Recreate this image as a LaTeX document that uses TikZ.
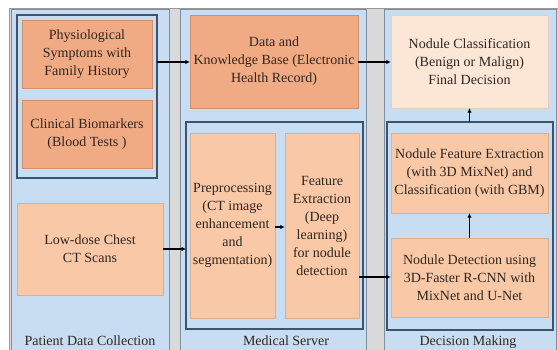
\documentclass[tikz,border=0pt]{standalone}
\usepackage{fontspec}
\setmainfont{Liberation Serif}
\newfontfamily\tms{Liberation Serif}
\usetikzlibrary{arrows.meta,fit}
\definecolor{panelblue}{HTML}{C8DDF1}
\definecolor{panelline}{HTML}{7D8EA0}
\definecolor{grayback}{HTML}{D9D9D9}
\definecolor{grayline}{HTML}{9A9A9A}
\definecolor{navy}{HTML}{3A5572}
\definecolor{orangeA}{HTML}{F1AB84}
\definecolor{orangeB}{HTML}{F8C8A7}
\definecolor{orangeC}{HTML}{FCE7D7}
\definecolor{txt}{HTML}{30261F}
\begin{document}
\begin{tikzpicture}[x=1pt,y=-1pt,
  every node/.style={font=\tms\fontsize{14}{18}\selectfont, text=txt, align=center, inner sep=0pt},
  boxA/.style={fill=orangeA, draw=orangeA!85!black, line width=0.4pt},
  boxB/.style={fill=orangeB, draw=orangeB!88!black, line width=0.4pt},
  boxC/.style={fill=orangeC, draw=orangeC!90!black, line width=0.4pt},
  panel/.style={fill=panelblue, draw=panelline, line width=1pt},
  grp/.style={draw=navy, line width=1.2pt},
  arr/.style={-{Latex[length=4.5pt,width=4.5pt]}, line width=1.2pt, black},
  lbl/.style={anchor=base}
]
\clip (0,0) rectangle (558,350);
\fill[white] (0,0) rectangle (558,350);
% gray background
\draw[fill=grayback, draw=grayline, line width=0.8pt] (9,8) rectangle (570,370);
% panels
\draw[panel] (11,10) rectangle (169,370);
\draw[panel] (180,10) rectangle (366,370);
\draw[panel] (384,10) rectangle (556,370);

% panel 1
\node[boxA, minimum width=130pt, minimum height=68pt] (phys) at (87,54) {Physiological\\Symptoms with\\Family History};
\node[boxA, minimum width=130pt, minimum height=68pt] (clin) at (87,134) {Clinical Biomarkers\\(Blood Tests )};
\draw[grp] (17,15) rectangle (157,178);
\coordinate (g1e) at (157,62);
\node[boxB, minimum width=146pt, minimum height=92pt] (low) at (90,249) {Low-dose Chest\\CT Scans};
\node[lbl] (l1) at (90,345) {Patient Data Collection};

% panel 2
\node[boxA, minimum width=168pt, minimum height=93pt] (data) at (274,61.5) {Data and\\Knowledge Base (Electronic\\Health Record)};
\node[boxB, minimum width=85pt, minimum height=185pt] (pre) at (232.5,225.5) {Preprocessing\\(CT image\\enhancement\\and\\segmentation)};
\node[boxB, minimum width=74pt, minimum height=185pt] (feat) at (322,225.5) {Feature\\Extraction\\(Deep\\learning)\\for nodule\\detection};
\draw[grp] (186,122) rectangle (363,329);
\coordinate (g2w) at (186,249);
\node[lbl] (l2) at (286,345) {Medical Server};

% panel 3
\node[boxC, minimum width=157pt, minimum height=93pt] (cls) at (469.5,61.5) {Nodule Classification\\(Benign or Malign)\\Final Decision};
\node[boxB, minimum width=157pt, minimum height=80pt] (nfe) at (469.5,173) {Nodule Feature Extraction\\(with 3D MixNet) and\\Classification (with GBM)};
\node[boxB, minimum width=157pt, minimum height=79pt] (det) at (469.5,277.5) {Nodule Detection using\\3D-Faster R-CNN with\\MixNet and U-Net};
\draw[grp] (387,122) rectangle (553,330);
\coordinate (g3n) at (469.5,122);
\node[lbl] (l3) at (468,345) {Decision Making};

% arrows
\draw[arr] (g1e) -- (data.west |- g1e);
\draw[arr] (data.east |- g1e) -- (cls.west |- g1e);
\draw[arr] (low.east) -- (g2w);
\draw[arr] (pre.east |- 0,227) -- (feat.west |- 0,227);
\draw[arr] (feat.east |- 0,277) -- (det.west |- 0,277);
\draw[arr] (det.north) -- (nfe.south);
\draw[arr] (g3n) -- (cls.south);
\end{tikzpicture}
\end{document}
